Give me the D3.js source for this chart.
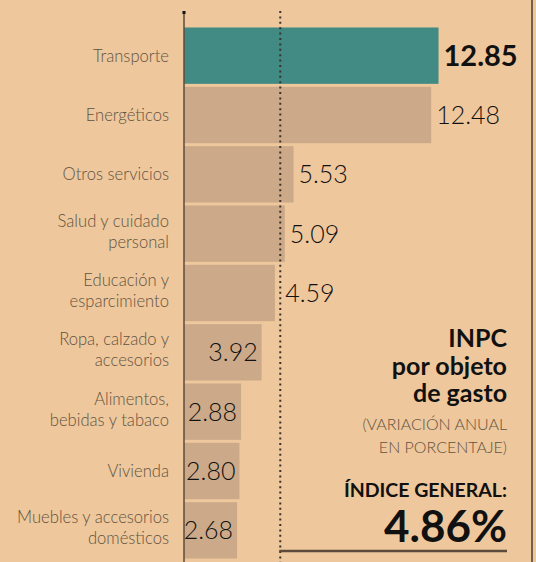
<!DOCTYPE html>
<html>
<head>
<meta charset="utf-8">
<script src="https://cdn.jsdelivr.net/npm/d3@7"></script>
<style>
  html, body { margin: 0; padding: 0; background: #eec79c; }
  svg { display: block; font-family: Lato, "Open Sans", sans-serif; }
</style>
</head>
<body>
<div id="chart"></div>
<script>
// datos: INPC por objeto de gasto (variación anual, %)
var categories = [
  "Transporte",
  "Energéticos",
  "Otros servicios",
  "Salud y cuidado\npersonal",
  "Educación y\nesparcimiento",
  "Ropa, calzado y\naccesorios",
  "Alimentos,\nbebidas y tabaco",
  "Vivienda",
  "Muebles y accesorios\ndomésticos"
];
var values = [12.85, 12.48, 5.53, 5.09, 4.59, 3.92, 2.88, 2.80, 2.68];
var highlight = "Transporte";
var indiceGeneral = 4.86;

var titleLines = ["INPC", "por objeto", "de gasto"];
var subtitleLines = ["(VARIACIÓN ANUAL", "EN PORCENTAJE)"];
var indiceLabel = "ÍNDICE GENERAL:";

var width = 536, height = 562;
var bg = "#eec79c", barColor = "#ccaa89", hiColor = "#428a84",
    labelColor = "#62533f", lineColor = "#5c4b3c";

var svg = d3.select("#chart").append("svg")
  .attr("width", width)
  .attr("height", height);

svg.append("rect").attr("width", width).attr("height", height).attr("fill", bg);

var data = categories.map(function (c, i) { return { cat: c, value: values[i] }; });

// escalas
var x = d3.scaleLinear().domain([0, 13]).range([184, 441.5]);
var y = d3.scaleBand()
  .domain(categories)
  .range([26, 560])
  .paddingInner(0.05)
  .paddingOuter(0.025);

// barras
svg.selectAll("rect.bar")
  .data(data)
  .enter()
  .append("rect")
  .attr("class", "bar")
  .attr("x", x(0))
  .attr("y", function (d) { return y(d.cat); })
  .attr("width", function (d) { return x(d.value) - x(0); })
  .attr("height", y.bandwidth())
  .attr("fill", function (d) { return d.cat === highlight ? hiColor : barColor; });

// eje vertical
svg.append("line")
  .attr("x1", x(0)).attr("x2", x(0))
  .attr("y1", 12).attr("y2", height)
  .attr("stroke", lineColor)
  .attr("stroke-width", 1.5);
svg.append("rect")
  .attr("x", x(0) - 1.5).attr("y", 11)
  .attr("width", 3).attr("height", 3)
  .attr("fill", "#111");

// línea punteada del índice general
svg.append("line")
  .attr("x1", x(indiceGeneral)).attr("x2", x(indiceGeneral))
  .attr("y1", 11).attr("y2", height)
  .attr("stroke", "#3a332c")
  .attr("stroke-width", 2)
  .attr("stroke-dasharray", "2 3.4");

// etiquetas de categorías
var labels = svg.selectAll("text.cat")
  .data(data)
  .enter()
  .append("text")
  .attr("class", "cat")
  .attr("text-anchor", "end")
  .attr("fill", labelColor)
  .attr("font-size", 16.6)
  .attr("font-weight", 300);

labels.each(function (d) {
  var lines = d.cat.split("\n");
  var n = lines.length;
  var cy = y(d.cat) + y.bandwidth() / 2;
  var t = d3.select(this);
  lines.forEach(function (l, i) {
    t.append("tspan")
      .attr("x", 169)
      .attr("y", cy + 6 + (i - (n - 1) / 2) * 21 - (n - 1) * 2.5)
      .text(l);
  });
});

// valores
var ref = x(indiceGeneral);
svg.selectAll("text.val")
  .data(data)
  .enter()
  .append("text")
  .attr("class", "val")
  .attr("fill", "#111")
  .attr("font-size", function (d) { return d.cat === highlight ? 29 : 25; })
  .attr("font-weight", function (d) { return d.cat === highlight ? 700 : 300; })
  .attr("text-anchor", function (d) { return d.value < 4 ? "end" : "start"; })
  .attr("x", function (d) {
    if (d.value < 4) return x(d.value) - 4;
    return Math.max(x(d.value) + 5, ref + 5);
  })
  .attr("y", function (d) {
    return y(d.cat) + y.bandwidth() / 2 + (d.cat === highlight ? 10.5 : 9);
  })
  .text(function (d) { return d3.format(".2f")(d.value); });

// bloque de texto a la derecha
var tx = 507;
var title = svg.append("text")
  .attr("text-anchor", "end")
  .attr("fill", "#111")
  .attr("font-size", 25)
  .attr("font-weight", 700);
titleLines.forEach(function (l, i) {
  title.append("tspan").attr("x", tx).attr("y", 347 + i * 27.5).text(l);
});

var sub = svg.append("text")
  .attr("text-anchor", "end")
  .attr("fill", labelColor)
  .attr("font-size", 16)
  .attr("font-weight", 300);
subtitleLines.forEach(function (l, i) {
  sub.append("tspan").attr("x", tx).attr("y", 430 + i * 23).text(l);
});

svg.append("text")
  .attr("x", tx).attr("y", 497)
  .attr("text-anchor", "end")
  .attr("fill", "#111")
  .attr("font-size", 19.5)
  .attr("font-weight", 700)
  .text(indiceLabel);

svg.append("text")
  .attr("x", tx).attr("y", 542)
  .attr("text-anchor", "end")
  .attr("fill", "#111")
  .attr("font-size", 44)
  .attr("font-weight", 700)
  .text(d3.format(".2f")(indiceGeneral) + "%");

svg.append("line")
  .attr("x1", ref - 1).attr("x2", tx)
  .attr("y1", 551).attr("y2", 551)
  .attr("stroke", lineColor)
  .attr("stroke-width", 2.5);

// marco derecho
svg.append("line")
  .attr("x1", 532).attr("x2", 532)
  .attr("y1", 0).attr("y2", height)
  .attr("stroke", "#4a3d33")
  .attr("stroke-width", 1.5);
</script>
</body>
</html>
